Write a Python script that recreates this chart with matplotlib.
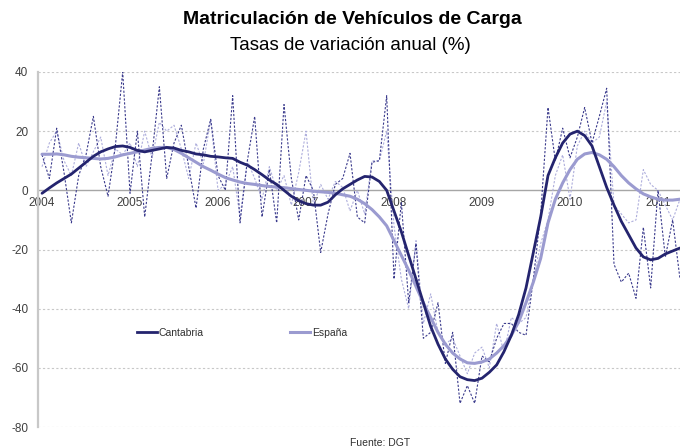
import matplotlib
matplotlib.use("Agg")
import matplotlib.pyplot as plt
from matplotlib.lines import Line2D

plt.rcParams['font.family'] = ['Liberation Sans', 'DejaVu Sans']

years = ["2004", "2005", "2006", "2007", "2008", "2009", "2010", "2011"]
year_start_index = [0, 12, 24, 36, 48, 60, 72, 84]

cantabria_raw = [12, 4, 21, 6, -11, 5, 12, 25, 8, -2, 15, 40,
                 -1, 20, -9, 12, 35, 4, 16, 22, 8, -6, 14, 24,
                 5, 0, 32, -11, 10, 25, -9, 7, -11, 29, 4, -10,
                 5, 0, -21, -8, 2, 4, 12.5, -9, -11, 9.5, 10, 32,
                 -30, -4, -38, -18, -50, -48, -38, -58.5, -48, -72, -66, -72,
                 -56, -58, -50, -45, -45, -48, -49, -30, -8, 28, 10, 21,
                 11, 18, 28, 16, 25, 34.5, -25, -31, -28, -36.5, -12.5, -33,
                 0, -22.6, -10, -30]

espana_raw = [8, 16, 20, 10, 5, 16, 8, 13, 18, 5, 14, 12,
              16, 8, 20, 11, 23, 20, 22, 14, 4, 16, 9, 24,
              0, 2, 8, -9, 10, 4, -3, 8, 0, 5, -5, 6,
              20, -5, 2, -3, 3, 1, -7, 0, -8, 10, 10, 20,
              -12, -30, -40, -17, -45, -35, -48, -52, -50, -56, -62, -55,
              -53, -60, -45, -55, -43, -45, -43, -30, -18, -10, 5, 12,
              -3, 15, 20, 16, 18, 30, -5, -8, -11, -10, 7, 2,
              0, -5, -10, -3]

cantabria_trend = [-1, 0.8, 2.5, 4, 5.5, 7.5, 9.5, 11.5, 13, 14, 14.8, 15,
                   14.5, 13.5, 13, 13.5, 14, 14.5, 14.3, 13.5, 13, 12.3, 12, 11.5,
                   11.3, 11, 10.8, 9.5, 8.5, 7, 5.3, 3.5, 2, 0, -2, -3.5,
                   -4.5, -5, -5, -4, -1.5, 0.5, 2, 3.5, 4.7, 4.5, 3, 0,
                   -7, -14, -22, -30, -38, -46, -52, -57, -60.5, -63, -64, -64.3,
                   -63.5, -61.5, -59, -54.5, -49, -42, -33, -21, -9, 5, 11, 16,
                   19, 20, 18.5, 15, 8, 1, -5, -10.5, -15, -19.5, -22.5, -23.5,
                   -23, -21.5, -20.5, -19.5]

espana_trend = [12.2, 12.2, 12.3, 12, 11.5, 11.2, 11, 10.8, 10.6, 10.8, 11.3, 12,
                12.5, 13, 13.6, 14.2, 14.5, 14.5, 13.8, 12.5, 11, 9.5, 8, 6.8,
                5.5, 4.3, 3.5, 2.8, 2.3, 2, 1.6, 1.3, 1.1, 0.9, 0.6, 0.3,
                0, -0.3, -0.5, -0.7, -1, -1.5, -2, -3, -4.5, -6.5, -9, -12,
                -17, -22, -27, -32.5, -38, -43, -48, -52, -55, -57, -58.3, -58.5,
                -58, -57, -55, -52.5, -49, -44.5, -38, -31, -23, -11, -3, 2.5,
                7, 10.5, 12.3, 12.8, 12, 10.5, 8, 5, 2.5, 0.5, -1.2, -2.2,
                -3, -3.3, -3.3, -3]

y_ticks = [40, 20, 0, -20, -40, -60, -80]

DARK = "#24246e"
LIGHT = "#9b9bd0"
DARK_D = "#3a3a8c"
LIGHT_D = "#aeaedc"

fig = plt.figure(figsize=(6.8, 4.47), dpi=100)
ax = fig.add_axes([38/680, 1-427/447, 1-38/680, (427-72)/447])

xs = list(range(len(cantabria_raw)))
ax.plot(xs, espana_raw, color=LIGHT_D, lw=0.8, ls=(0, (2, 1.5)), zorder=2)
ax.plot(xs, cantabria_raw, color=DARK_D, lw=0.8, ls=(0, (2, 1.5)), zorder=2)
ax.plot(xs, espana_trend, color=LIGHT, lw=2.2, zorder=3, solid_capstyle='round')
ax.plot(xs, cantabria_trend, color=DARK, lw=2.0, zorder=4, solid_capstyle='round')

ax.set_xlim(-0.55, 87.0)
ax.set_ylim(-80, 40)

for v in y_ticks:
    if v != 0:
        ax.axhline(v, color="#c8c8c8", lw=0.8, ls=(0, (2, 2)), zorder=1)

ax.set_yticks(y_ticks)
ax.set_yticklabels([str(v) for v in y_ticks])
ax.set_xticks(year_start_index)
ax.set_xticklabels(years)

ax.spines['top'].set_visible(False)
ax.spines['right'].set_visible(False)
ax.spines['bottom'].set_position(('data', 0))
ax.spines['bottom'].set_color("#a6a6a6")
ax.spines['bottom'].set_linewidth(1.0)
ax.spines['bottom'].set_zorder(1)
ax.spines['left'].set_color("#c8c8c8")
ax.spines['left'].set_linewidth(1.6)
ax.tick_params(axis='both', length=0, labelsize=8.5, colors="#404040")
ax.tick_params(axis='y', pad=7)
ax.tick_params(axis='x', pad=5)

handles = [Line2D([], [], color=DARK, lw=2.0), Line2D([], [], color=LIGHT, lw=2.2)]
ax.legend(handles, ["Cantabria", "España"], loc='center left',
          bbox_to_anchor=((137-38)/642, (427-333)/355), ncol=2, frameon=False,
          fontsize=7.5, handlelength=1.9, handletextpad=0.2, columnspacing=8.3,
          borderpad=0, borderaxespad=0, labelcolor="#303030")

fig.text(352/680, 1-20/447, "Matriculación de Vehículos de Carga", ha='center', va='center',
         fontsize=14, fontweight='bold', color="#000000")
fig.text(350/680, 1-46/447, "Tasas de variación anual (%)", ha='center', va='center',
         fontsize=13.5, color="#000000")
fig.text(380/680, 1-438/447, "Fuente: DGT", ha='center', va='top', fontsize=7.5, color="#303030")

fig.savefig("out.png", dpi=100)
